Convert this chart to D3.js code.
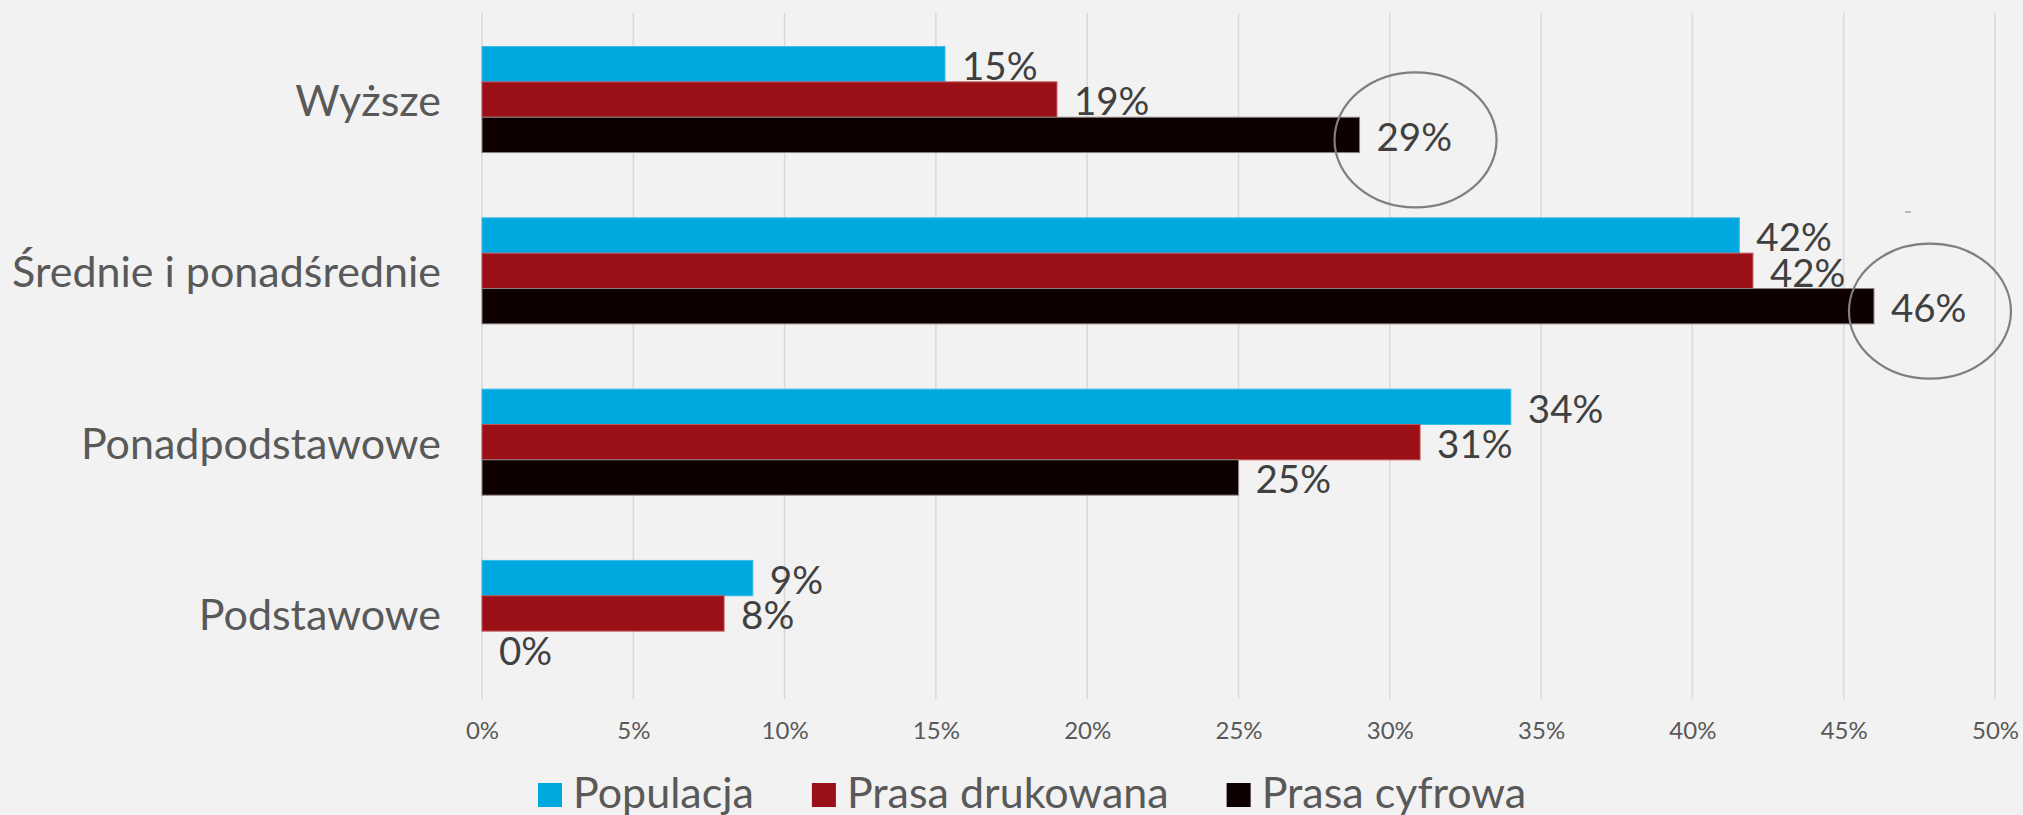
<!DOCTYPE html>
<html>
<head>
<meta charset="utf-8">
<script src="https://cdn.jsdelivr.net/npm/d3@7"></script>
<style>
  html, body { margin: 0; padding: 0; background: #f2f2f2; }
  svg { display: block; font-family: Lato, "Open Sans", sans-serif; }
</style>
</head>
<body>
<div id="chart"></div>
<script>
// chart data
var categories = ["Wyższe", "Średnie i ponadśrednie", "Ponadpodstawowe", "Podstawowe"];
var seriesNames = ["Populacja", "Prasa drukowana", "Prasa cyfrowa"];
var populacja = [15.3, 41.55, 34.0, 8.95];
var prasaDrukowana = [19.0, 42.0, 31.0, 8.0];
var prasaCyfrowa = [29.0, 46.0, 25.0, 0];
var xTicks = [0, 5, 10, 15, 20, 25, 30, 35, 40, 45, 50];
// values that got a circle drawn round their label
var circled = [{cat: "Wyższe", series: "Prasa cyfrowa"}, {cat: "Średnie i ponadśrednie", series: "Prasa cyfrowa"}];

var colors = ["#00a8e0", "#9b0f16", "#0e0000"];
var strokes = ["#3bbbe8", "#c2545a", "#8a8080"];

var width = 2023, height = 815;
var svg = d3.select("#chart").append("svg")
  .attr("width", width)
  .attr("height", height);

svg.append("rect").attr("width", width).attr("height", height).attr("fill", "#f2f2f2");

var x = d3.scaleLinear().domain([0, 50]).range([482, 1995]);
var y = d3.scaleBand().domain(categories).range([14, 699]).paddingInner(0.381).paddingOuter(0.19);
var ySeries = d3.scaleBand().domain(seriesNames).range([0, y.bandwidth()]);

var values = [populacja, prasaDrukowana, prasaCyfrowa];
var rows = [];
categories.forEach(function(c, i) {
  seriesNames.forEach(function(s, j) {
    rows.push({cat: c, series: s, value: values[j][i], idx: j});
  });
});

// gridlines
svg.append("g").selectAll("line")
  .data(xTicks)
  .enter().append("line")
  .attr("x1", function(d) { return x(d); })
  .attr("x2", function(d) { return x(d); })
  .attr("y1", 13)
  .attr("y2", 699)
  .attr("stroke", "#d9d9d9")
  .attr("stroke-width", 1.5);

// x axis tick labels
var xAxis = d3.axisBottom(x).tickValues(xTicks).tickSize(0).tickPadding(0)
  .tickFormat(function(d) { return d + "%"; });
var gx = svg.append("g").attr("transform", "translate(0,722)").call(xAxis);
gx.select(".domain").remove();
gx.selectAll("text")
  .attr("dy", 0)
  .attr("y", 17)
  .style("font-family", "Lato, sans-serif")
  .style("font-size", "24px")
  .attr("fill", "#595959");

// category labels
var yAxis = d3.axisLeft(y).tickSize(0).tickPadding(41);
var gy = svg.append("g").attr("transform", "translate(482,0)").call(yAxis);
gy.select(".domain").remove();
gy.selectAll("text")
  .attr("dy", "0.36em")
  .attr("y", 1)
  .style("font-family", "Lato, sans-serif")
  .style("font-size", "43px")
  .attr("fill", "#595959");

// bars
svg.append("g").selectAll("rect")
  .data(rows.filter(function(d) { return d.value > 0; }))
  .enter().append("rect")
  .attr("x", x(0))
  .attr("y", function(d) { return y(d.cat) + ySeries(d.series); })
  .attr("width", function(d) { return x(d.value) - x(0); })
  .attr("height", ySeries.bandwidth())
  .attr("fill", function(d) { return colors[d.idx]; })
  .attr("stroke", function(d) { return strokes[d.idx]; })
  .attr("stroke-width", 1);

// value labels
svg.append("g").selectAll("text")
  .data(rows)
  .enter().append("text")
  .attr("x", function(d) { return x(d.value) + 17; })
  .attr("y", function(d) { return y(d.cat) + ySeries(d.series) + ySeries.bandwidth() / 2 + 2; })
  .attr("dy", "0.36em")
  .style("font-size", "38.5px")
  .attr("fill", "#404040")
  .text(function(d) { return Math.round(d.value) + "%"; });

// circles round the highlighted labels
svg.append("g").selectAll("ellipse")
  .data(circled)
  .enter().append("ellipse")
  .attr("cx", function(d) {
    var v = rows.find(function(r) { return r.cat == d.cat && r.series == d.series; }).value;
    return x(v) + 56;
  })
  .attr("cy", function(d) { return y(d.cat) + ySeries(d.series) + ySeries.bandwidth() / 2 + 5; })
  .attr("rx", 81)
  .attr("ry", 67.5)
  .attr("fill", "none")
  .attr("stroke", "#7f7f7f")
  .attr("stroke-width", 2.2);

// small stray dash seen in the original
svg.append("line")
  .attr("x1", 1905).attr("x2", 1911)
  .attr("y1", 212).attr("y2", 212)
  .attr("stroke", "#a6a6a6").attr("stroke-width", 1.5);

// legend
var legend = svg.append("g").attr("transform", "translate(538,783)");
var lx = 0;
seriesNames.forEach(function(s, i) {
  var item = legend.append("g").attr("transform", "translate(" + lx + ",0)");
  item.append("rect").attr("width", 24).attr("height", 24).attr("fill", colors[i]);
  var t = item.append("text")
    .attr("x", 35)
    .attr("y", 25)
    .style("font-size", "43px")
    .attr("fill", "#595959")
    .text(s);
  lx += 35 + t.node().getComputedTextLength() + 58;
});
</script>
</body>
</html>
